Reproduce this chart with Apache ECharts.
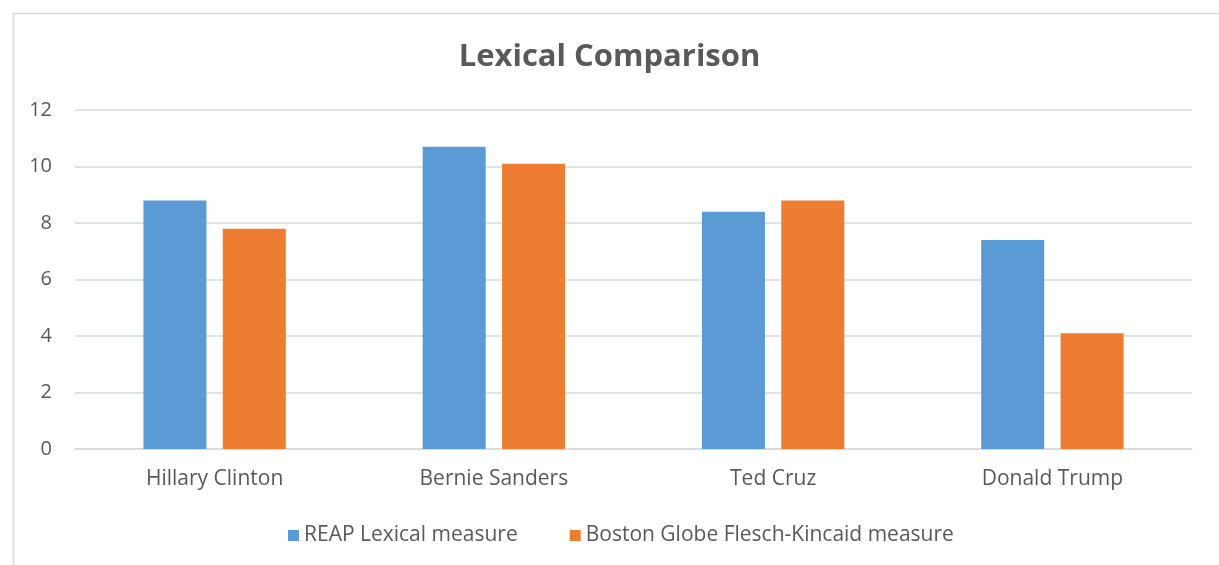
<!DOCTYPE html>
<html>
<head>
<meta charset="utf-8">
<script src="https://cdn.jsdelivr.net/npm/echarts@6/dist/echarts.min.js"></script>
<style>
  html, body { margin: 0; padding: 0; background: #fff; }
  #chart { width: 1219px; height: 565px; }
</style>
</head>
<body>
<div id="chart"></div>
<script>
// candidates on the x axis
const candidates = ['Hillary Clinton', 'Bernie Sanders', 'Ted Cruz', 'Donald Trump']
// REAP lexical scores
const reapValues = [8.8, 10.7, 8.4, 7.4]
// Boston Globe Flesch-Kincaid grade
const fleschValues = [7.8, 10.1, 8.8, 4.1]
const seriesNames = ['REAP Lexical measure', 'Boston Globe Flesch-Kincaid measure']

const textColor = '#595959'
const fontFamily = '"Open Sans", Calibri, sans-serif'

let myChart = echarts.init(document.getElementById('chart'))

let options = {
  animation: false,
  color: ['#5B9BD5', '#ED7D31'],
  title: {
    text: 'Lexical Comparison',
    left: 'center',
    top: 37,
    textStyle: {
      color: textColor,
      fontSize: 31,
      fontWeight: 'bold',
      fontFamily: fontFamily
    }
  },
  // outer chart frame
  graphic: [{
    type: 'rect',
    left: 11,
    top: 11,
    shape: { width: 1400, height: 800 },
    style: { fill: 'none', stroke: '#d9d9d9', lineWidth: 1.5 },
    silent: true
  }],
  legend: {
    left: 283,
    top: 520,
    itemWidth: 11,
    itemHeight: 11,
    itemGap: 52,
    icon: 'rect',
    textStyle: { color: textColor, fontSize: 21, fontFamily: fontFamily },
    data: seriesNames
  },
  grid: {
    left: 75,
    right: 27,
    top: 110,
    bottom: 116,
    containLabel: false
  },
  xAxis: {
    type: 'category',
    data: candidates,
    axisTick: { show: false },
    axisLine: { lineStyle: { color: '#d9d9d9', width: 1.5 } },
    axisLabel: {
      color: textColor,
      fontSize: 21,
      fontFamily: fontFamily,
      margin: 20
    }
  },
  yAxis: {
    type: 'value',
    min: 0,
    max: 12,
    interval: 2,
    axisLine: { show: false },
    axisTick: { show: false },
    axisLabel: {
      color: textColor,
      fontSize: 20,
      fontFamily: fontFamily,
      margin: 23
    },
    splitLine: { lineStyle: { color: '#d9d9d9', width: 1.5 } }
  },
  series: [{
    name: seriesNames[0],
    type: 'bar',
    barWidth: 63,
    barGap: '26%',
    data: reapValues
  }, {
    name: seriesNames[1],
    type: 'bar',
    barWidth: 63,
    barGap: '26%',
    data: fleschValues
  }]
}

myChart.setOption(options)
</script>
</body>
</html>
